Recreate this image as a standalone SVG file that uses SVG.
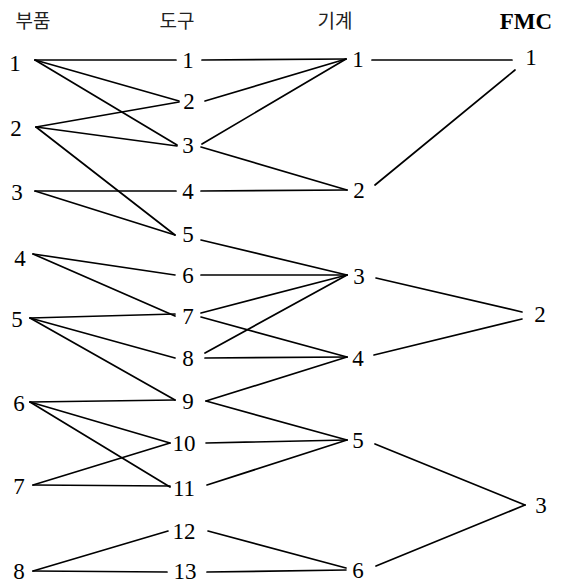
<svg xmlns="http://www.w3.org/2000/svg" width="563" height="583" viewBox="0 0 563 583">
<style>
.bg{fill:#fff}
.n{font-family:"Liberation Serif","Times New Roman",serif;font-size:23px;fill:#000;text-anchor:middle}
.h{font-family:"Liberation Serif","Noto Sans CJK KR",serif;font-size:19px;fill:#222;text-anchor:middle}
.hb{font-family:"Liberation Serif","Times New Roman",serif;font-size:23px;font-weight:bold;fill:#000;text-anchor:middle}
#edges line{stroke:#000;stroke-width:1.7;stroke-linecap:round}
</style>
<rect class="bg" x="0" y="0" width="563" height="583"/>
<g id="headers">
<text class="h" x="33" y="28">부품</text>
<text class="h" x="177" y="28">도구</text>
<text class="h" x="335" y="28">기계</text>
<text class="hb" x="526" y="29">FMC</text>
</g>
<g id="edges">
<line x1="35" y1="60" x2="176" y2="60"/>
<line x1="35" y1="60" x2="179" y2="101"/>
<line x1="35" y1="60" x2="177" y2="145"/>
<line x1="36" y1="127" x2="179" y2="102"/>
<line x1="36" y1="127" x2="177" y2="146"/>
<line x1="36" y1="127" x2="175" y2="235"/>
<line x1="35" y1="191" x2="176" y2="191"/>
<line x1="35" y1="191" x2="175" y2="235"/>
<line x1="33" y1="254" x2="175" y2="275"/>
<line x1="33" y1="254" x2="175" y2="316"/>
<line x1="30" y1="318" x2="175" y2="314"/>
<line x1="30" y1="318" x2="175" y2="358"/>
<line x1="30" y1="318" x2="175" y2="400"/>
<line x1="30" y1="402" x2="175" y2="400"/>
<line x1="30" y1="402" x2="170" y2="443"/>
<line x1="30" y1="402" x2="170" y2="487"/>
<line x1="33" y1="485" x2="170" y2="443"/>
<line x1="33" y1="485" x2="170" y2="486"/>
<line x1="33" y1="571" x2="168" y2="531"/>
<line x1="33" y1="571" x2="167" y2="572"/>
<line x1="202" y1="60" x2="346" y2="59"/>
<line x1="205" y1="101" x2="346" y2="59"/>
<line x1="202" y1="144" x2="346" y2="59"/>
<line x1="201" y1="147" x2="347" y2="190"/>
<line x1="201" y1="191" x2="347" y2="190"/>
<line x1="201" y1="240" x2="347" y2="275"/>
<line x1="201" y1="275" x2="347" y2="275"/>
<line x1="201" y1="313" x2="347" y2="275"/>
<line x1="201" y1="317" x2="347" y2="357"/>
<line x1="205" y1="353" x2="347" y2="275"/>
<line x1="205" y1="358" x2="347" y2="357"/>
<line x1="206" y1="401" x2="347" y2="357"/>
<line x1="206" y1="401" x2="347" y2="440"/>
<line x1="206" y1="443" x2="347" y2="440"/>
<line x1="207" y1="485" x2="347" y2="440"/>
<line x1="208" y1="531" x2="346" y2="568"/>
<line x1="207" y1="572" x2="346" y2="570"/>
<line x1="372" y1="60" x2="512" y2="60"/>
<line x1="375" y1="185" x2="515" y2="70"/>
<line x1="376" y1="278" x2="522" y2="312"/>
<line x1="374" y1="355" x2="522" y2="319"/>
<line x1="375" y1="444" x2="525" y2="505"/>
<line x1="376" y1="566" x2="525" y2="505"/>
</g>
<g id="p1"><text class="n" x="15" y="71">1</text></g>
<g id="p2"><text class="n" x="16" y="136">2</text></g>
<g id="p3"><text class="n" x="17" y="200">3</text></g>
<g id="p4"><text class="n" x="20" y="266">4</text></g>
<g id="p5"><text class="n" x="17" y="327">5</text></g>
<g id="p6"><text class="n" x="19" y="411">6</text></g>
<g id="p7"><text class="n" x="19" y="494">7</text></g>
<g id="p8"><text class="n" x="19" y="579">8</text></g>
<g id="t1"><text class="n" x="188" y="68">1</text></g>
<g id="t2"><text class="n" x="189" y="109">2</text></g>
<g id="t3"><text class="n" x="188" y="153">3</text></g>
<g id="t4"><text class="n" x="188" y="199">4</text></g>
<g id="t5"><text class="n" x="188" y="242">5</text></g>
<g id="t6"><text class="n" x="188" y="283">6</text></g>
<g id="t7"><text class="n" x="188" y="324">7</text></g>
<g id="t8"><text class="n" x="188" y="366">8</text></g>
<g id="t9"><text class="n" x="188" y="409">9</text></g>
<g id="t10"><text class="n" x="184" y="451">10</text></g>
<g id="t11"><text class="n" x="184" y="496">11</text></g>
<g id="t12"><text class="n" x="184" y="539">12</text></g>
<g id="t13"><text class="n" x="185" y="579">13</text></g>
<g id="m1"><text class="n" x="358" y="67">1</text></g>
<g id="m2"><text class="n" x="359" y="198">2</text></g>
<g id="m3"><text class="n" x="359" y="284">3</text></g>
<g id="m4"><text class="n" x="358" y="366">4</text></g>
<g id="m5"><text class="n" x="358" y="448">5</text></g>
<g id="m6"><text class="n" x="358" y="578">6</text></g>
<g id="f1"><text class="n" x="531" y="65">1</text></g>
<g id="f2"><text class="n" x="540" y="322">2</text></g>
<g id="f3"><text class="n" x="541" y="513">3</text></g>
</svg>
